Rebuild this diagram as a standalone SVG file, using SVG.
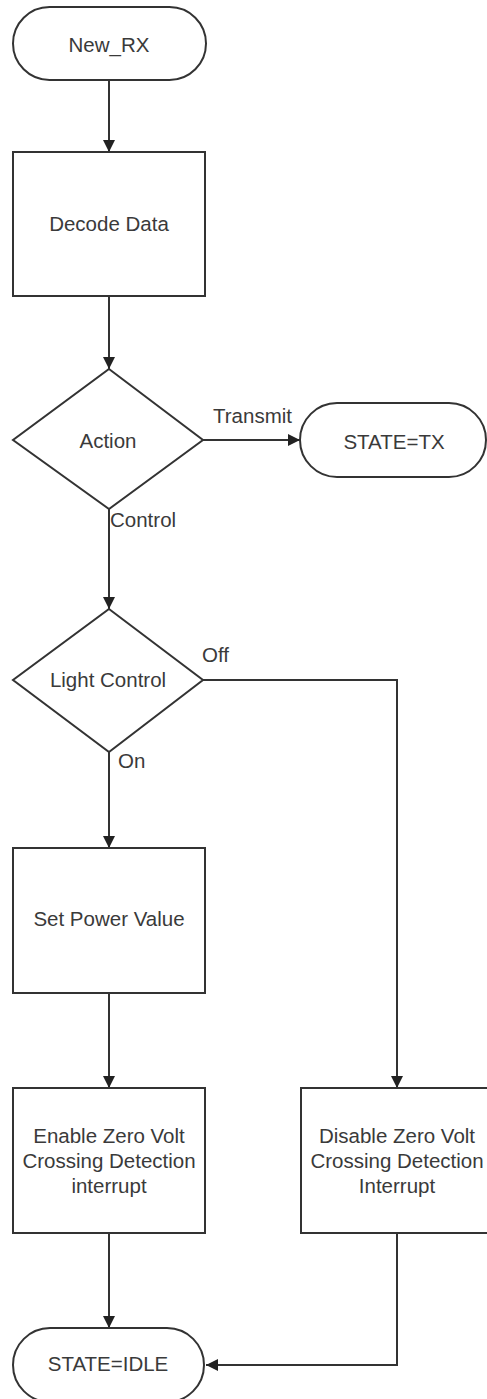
<svg xmlns="http://www.w3.org/2000/svg" width="487" height="1399" viewBox="0 0 487 1399">
  <defs>
    <marker id="arrow" viewBox="0 0 12 12" refX="12" refY="6" markerWidth="12" markerHeight="12" markerUnits="userSpaceOnUse" orient="auto">
      <path d="M0,0 L12,6 L0,12 Z" fill="#222"/>
    </marker>
    <style>
      .shape { fill: #fff; stroke: #333; stroke-width: 2; }
      .wire { fill: none; stroke: #333; stroke-width: 2; marker-end: url(#arrow); }
      .txt { font-family: "Liberation Sans", Arial, sans-serif; font-size: 20.5px; fill: #3a3a3a; text-anchor: middle; dominant-baseline: central; }
      .lbl { font-family: "Liberation Sans", Arial, sans-serif; font-size: 20.5px; fill: #3a3a3a; }
    </style>
  </defs>
  <rect width="487" height="1399" fill="#fff"/>

  <g id="connectors">
    <path class="wire" d="M109,80 L109,152"/>
    <path class="wire" d="M109,296 L109,369"/>
    <path class="wire" d="M203,440 L300,440"/>
    <path class="wire" d="M109,509 L109,609"/>
    <path class="wire" d="M109,752 L109,848"/>
    <path class="wire" d="M203,680 L397,680 L397,1088"/>
    <path class="wire" d="M109,993 L109,1088"/>
    <path class="wire" d="M109,1233 L109,1328"/>
    <path class="wire" d="M397,1233 L397,1365 L206,1365"/>
    <text class="lbl" x="213" y="423">Transmit</text>
    <text class="lbl" x="110" y="527">Control</text>
    <text class="lbl" x="202" y="662">Off</text>
    <text class="lbl" x="118" y="768">On</text>
  </g>

  <g id="new-rx">
    <rect class="shape" x="13" y="7" width="193" height="73" rx="36.5"/>
    <text class="txt" x="109" y="44">New_RX</text>
  </g>

  <g id="decode-data">
    <rect class="shape" x="13" y="152" width="192" height="144"/>
    <text class="txt" x="109" y="223">Decode Data</text>
  </g>

  <g id="action">
    <polygon class="shape" points="109,369 203,440 109,509 13,440"/>
    <text class="txt" x="108" y="440">Action</text>
  </g>

  <g id="state-tx">
    <rect class="shape" x="300" y="403" width="186" height="74" rx="37"/>
    <text class="txt" x="394" y="441">STATE=TX</text>
  </g>

  <g id="light-control">
    <polygon class="shape" points="109,609 203,680 109,752 13,680"/>
    <text class="txt" x="108" y="679">Light Control</text>
  </g>

  <g id="set-power">
    <rect class="shape" x="13" y="848" width="192" height="145"/>
    <text class="txt" x="109" y="918">Set Power Value</text>
  </g>

  <g id="enable-zvc">
    <rect class="shape" x="13" y="1088" width="192" height="145"/>
    <text class="txt" x="109" y="1135">Enable Zero Volt</text>
    <text class="txt" x="109" y="1160">Crossing Detection</text>
    <text class="txt" x="109" y="1185">interrupt</text>
  </g>

  <g id="disable-zvc">
    <rect class="shape" x="301" y="1088" width="192" height="145"/>
    <text class="txt" x="397" y="1135">Disable Zero Volt</text>
    <text class="txt" x="397" y="1160">Crossing Detection</text>
    <text class="txt" x="397" y="1185">Interrupt</text>
  </g>

  <g id="state-idle">
    <rect class="shape" x="13" y="1328" width="191" height="74" rx="37"/>
    <text class="txt" x="108" y="1363">STATE=IDLE</text>
  </g>
</svg>
